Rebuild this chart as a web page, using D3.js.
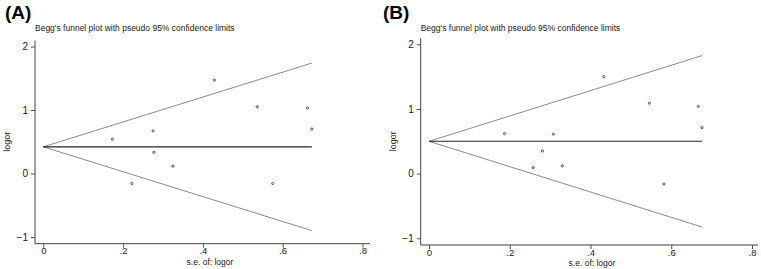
<!DOCTYPE html>
<html>
<head>
<meta charset="utf-8">
<script src="https://cdn.jsdelivr.net/npm/d3@7"></script>
<style>
  body { margin: 0; background: #fff; }
  text { font-family: "Liberation Sans", Arial, sans-serif; }
</style>
</head>
<body>
<div id="chart"></div>
<script>
// data
const seA = [0.173, 0.222, 0.275, 0.277, 0.325, 0.429, 0.536, 0.575, 0.662, 0.673];
const logorA = [0.54, -0.157, 0.67, 0.335, 0.115, 1.47, 1.05, -0.157, 1.03, 0.70];
const seB = [0.187, 0.258, 0.281, 0.308, 0.330, 0.433, 0.546, 0.582, 0.667, 0.676];
const logorB = [0.62, 0.09, 0.35, 0.61, 0.12, 1.50, 1.09, -0.16, 1.04, 0.71];
const pooled = [0.42, 0.50];
const seMax = [0.673, 0.676];
const panelLabels = ["(A)", "(B)"];
const xTicks = [0, 0.2, 0.4, 0.6, 0.8];
const yTicks = [-1, 0, 1, 2];

const width = 761, height = 269;

const svg = d3.select("#chart")
  .append("svg")
  .attr("width", width)
  .attr("height", height);

const panels = [
  { se: seA, y: logorA, x0: 43.3, x1: 362.5, y0: 237, y1: 46.5, axX: 35, axY: 243.7, axEnd: 370, letterX: 5, xlabX: 210 },
  { se: seB, y: logorB, x0: 429, x1: 752, y0: 238.3, y1: 44.3, axX: 420.7, axY: 245, axEnd: 758, letterX: 383, xlabX: 592 }
];

const fmt = d => d === 0 ? "0" : d3.format(".1f")(d).replace(/^0/, "");

panels.forEach(function(p, i) {
  const g = svg.append("g");

  const xScale = d3.scaleLinear().domain([0, 0.8]).range([p.x0, p.x1]);
  const yScale = d3.scaleLinear().domain([-1, 2]).range([p.y0, p.y1]);

  // panel letter
  g.append("text")
    .attr("x", p.letterX)
    .attr("y", 18.5)
    .attr("font-size", 19)
    .attr("font-weight", "bold")
    .text(panelLabels[i]);

  // title
  g.append("text")
    .attr("x", p.axX)
    .attr("y", 31)
    .attr("font-size", 8.5)
    .attr("fill", "#222")
    .text("Begg's funnel plot with pseudo 95% confidence limits");

  // axes
  const yAxis = d3.axisLeft(yScale).tickValues(yTicks).tickSize(4).tickPadding(3).tickFormat(d3.format("d"));
  g.append("g")
    .attr("transform", `translate(${p.axX},0)`)
    .call(yAxis)
    .call(a => a.select(".domain").remove())
    .call(a => a.selectAll("text").attr("font-size", 10).attr("fill", "#222"))
    .call(a => a.selectAll("line").attr("stroke", "#555"));

  const xAxis = d3.axisBottom(xScale).tickValues(xTicks).tickSize(4).tickPadding(0).tickFormat(fmt);
  g.append("g")
    .attr("transform", `translate(0,${p.axY})`)
    .call(xAxis)
    .call(a => a.select(".domain").remove())
    .call(a => a.selectAll("text").attr("font-size", 9.5).attr("fill", "#222"))
    .call(a => a.selectAll("line").attr("stroke", "#555"));

  // frame lines
  g.append("line")
    .attr("x1", p.axX).attr("x2", p.axX)
    .attr("y1", yScale(2) - 6).attr("y2", p.axY)
    .attr("stroke", "#444").attr("stroke-width", 1);
  g.append("line")
    .attr("x1", p.axX).attr("x2", p.axEnd)
    .attr("y1", p.axY).attr("y2", p.axY)
    .attr("stroke", "#444").attr("stroke-width", 1);

  // axis titles
  g.append("text")
    .attr("transform", `translate(${p.axX - 25},${yScale(0.5)}) rotate(-90)`)
    .attr("text-anchor", "middle")
    .attr("font-size", 9)
    .attr("fill", "#222")
    .text("logor");
  g.append("text")
    .attr("x", p.xlabX)
    .attr("y", p.axY + 21)
    .attr("text-anchor", "middle")
    .attr("font-size", 8.5)
    .attr("fill", "#222")
    .text("s.e. of: logor");

  // funnel limits
  const th = pooled[i], sm = seMax[i];
  g.append("line")
    .attr("x1", xScale(0)).attr("y1", yScale(th))
    .attr("x2", xScale(sm)).attr("y2", yScale(th + 1.96 * sm))
    .attr("stroke", "#8a8a8a").attr("stroke-width", 1);
  g.append("line")
    .attr("x1", xScale(0)).attr("y1", yScale(th))
    .attr("x2", xScale(sm)).attr("y2", yScale(th - 1.96 * sm))
    .attr("stroke", "#8a8a8a").attr("stroke-width", 1);
  g.append("line")
    .attr("x1", xScale(0)).attr("y1", yScale(th))
    .attr("x2", xScale(sm)).attr("y2", yScale(th))
    .attr("stroke", "#222").attr("stroke-width", 1.1);

  // studies
  g.selectAll(".pt")
    .data(p.se)
    .enter()
    .append("circle")
    .attr("class", "pt")
    .attr("cx", d => xScale(d))
    .attr("cy", (d, j) => yScale(p.y[j]))
    .attr("r", 1.1)
    .attr("fill", "none")
    .attr("stroke", "#444")
    .attr("stroke-width", 0.9);
});
</script>
</body>
</html>
